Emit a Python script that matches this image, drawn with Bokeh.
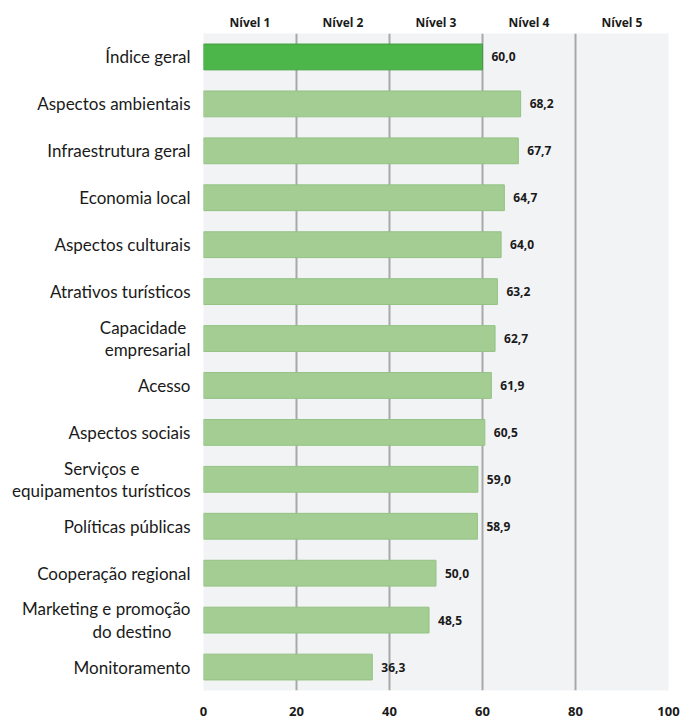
from bokeh.plotting import figure
from bokeh.models import Range1d, LinearAxis, FixedTicker, ColumnDataSource
from bokeh.embed import file_html
from bokeh.resources import INLINE
from bokeh.core.properties import value

categories = ["Índice geral", "Aspectos ambientais", "Infraestrutura geral", "Economia local",
              "Aspectos culturais", "Atrativos turísticos", "Capacidade\nempresarial", "Acesso",
              "Aspectos sociais", "Serviços e\nequipamentos turísticos", "Políticas públicas",
              "Cooperação regional", "Marketing e promoção\ndo destino", "Monitoramento"]
values = [60.0, 68.2, 67.7, 64.7, 64.0, 63.2, 62.7, 61.9, 60.5, 59.0, 58.9, 50.0, 48.5, 36.3]
level_positions = [10, 30, 50, 70, 90]
level_labels = ["Nível 1", "Nível 2", "Nível 3", "Nível 4", "Nível 5"]
x_ticks = [0, 20, 40, 60, 80, 100]

n = len(categories)
pos = list(range(n))
fill = ["#4cb64a"] + ["#a3cd93"] * (n - 1)
line = ["#3f9e3d"] + ["#93c283"] * (n - 1)
labels = [f"{v:.1f}".replace(".", ",") for v in values]

src = ColumnDataSource(dict(pos=pos, val=values, fill=fill, line=line, lab=labels))

p = figure(width=689, height=718, y_range=Range1d(n - 0.5, -0.5),
           x_range=Range1d(0, 100), output_backend="svg", toolbar_location=None,
           min_border_left=203, min_border_right=21, min_border_top=33, min_border_bottom=27)
p.background_fill_color = "#f2f3f5"
p.border_fill_color = "white"
p.outline_line_color = None

p.hbar(y="pos", right="val", left=0, height=0.55, fill_color="fill", line_color="line",
       line_width=1, source=src)
p.text(x="val", y="pos", text="lab", source=src, x_offset=9, text_baseline="middle",
       text_font=value("Open Sans"), text_font_style="bold", text_font_size="12px",
       text_color="#1a1a1a")

p.xgrid.ticker = FixedTicker(ticks=x_ticks)
p.xgrid.grid_line_color = "#a8a8a8"
p.xgrid.grid_line_width = 2
p.ygrid.grid_line_color = None

# bottom axis
p.xaxis.ticker = FixedTicker(ticks=x_ticks)
p.xaxis.axis_line_color = None
p.xaxis.major_tick_line_color = None
p.xaxis.minor_tick_line_color = None
p.xaxis.major_label_text_font = "Open Sans"
p.xaxis.major_label_text_font_style = "bold"
p.xaxis.major_label_text_font_size = "13px"
p.xaxis.major_label_text_color = "#1a1a1a"
p.xaxis.major_label_standoff = 10

# left axis with category names; short line of a two-line name padded so both lines look centred
en, thin = "\u2002", "\u2009"
pad = {"Capacidade\nempresarial": "Capacidade" + thin * 2 + "\nempresarial",
       "Serviços e\nequipamentos turísticos": "Serviços e" + en * 6 + "\nequipamentos turísticos",
       "Marketing e promoção\ndo destino": "Marketing e promoção\ndo destino" + en * 2 + thin}
p.yaxis.ticker = FixedTicker(ticks=pos)
p.yaxis.major_label_overrides = {i: pad.get(c, c) for i, c in zip(pos, categories)}
p.yaxis.axis_line_color = None
p.yaxis.major_tick_line_color = None
p.yaxis.minor_tick_line_color = None
p.yaxis.major_label_text_font = "Lato"
p.yaxis.major_label_text_font_size = "17px"
p.yaxis.major_label_text_line_height = 1.06
p.yaxis.major_label_text_color = "#1a1a1a"
p.yaxis.major_label_standoff = 7

# top axis with level labels
top = LinearAxis(ticker=FixedTicker(ticks=level_positions),
                 major_label_overrides={x: lab for x, lab in zip(level_positions, level_labels)})
top.axis_line_color = None
top.major_tick_line_color = None
top.minor_tick_line_color = None
top.major_label_text_font = "Open Sans"
top.major_label_text_font_style = "bold"
top.major_label_text_font_size = "12px"
top.major_label_text_color = "#1a1a1a"
top.major_label_standoff = -3
p.add_layout(top, "above")

open("out.html", "w").write(file_html(p, INLINE))
